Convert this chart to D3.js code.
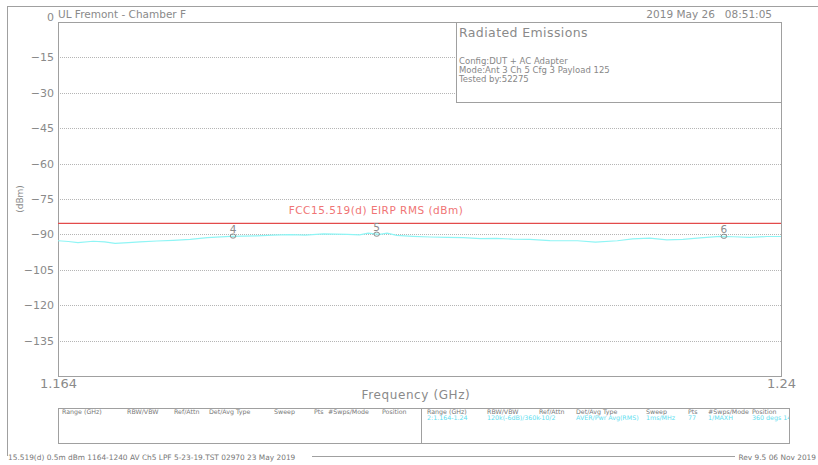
<!DOCTYPE html>
<html><head><meta charset="utf-8">
<script src="https://cdn.jsdelivr.net/npm/d3@7"></script>
<style>
html,body{margin:0;padding:0;background:#fff;}
svg{display:block;font-family:"DejaVu Sans",sans-serif;}
</style></head>
<body><svg id="c" width="818" height="465"></svg>
<script>
// ---- data ----
const traceFreq = [1.1640,1.1651,1.1661,1.1677,1.1689,1.1700,1.1714,1.1726,1.1744,1.1761,1.1779,1.1797,1.1821,1.1849,1.1866,1.1884,1.1900,1.1919,1.1944,1.1957,1.1966,1.1978,1.1986,1.1996,1.2013,1.2031,1.2049,1.2066,1.2084,1.2101,1.2118,1.2136,1.2157,1.2186,1.2205,1.2228,1.2244,1.2262,1.2280,1.2297,1.2315,1.2336,1.2350,1.2367,1.2385,1.2400];
const traceDbm  = [-92.7,-93.0,-93.5,-92.9,-93.2,-93.8,-93.5,-93.2,-92.8,-92.5,-92.1,-91.4,-90.8,-90.6,-90.3,-90.1,-90.3,-89.8,-90.0,-90.2,-89.5,-90.0,-89.5,-90.4,-90.8,-91.1,-91.3,-91.4,-91.8,-91.7,-92.0,-92.1,-92.6,-92.7,-93.3,-92.7,-91.9,-91.6,-92.3,-92.1,-91.5,-90.8,-91.0,-91.3,-90.9,-90.9];
const markerLabels = ["4","5","6"];
const markerFreq = [1.1824,1.1975,1.2340];
const markerDbm  = [-90.7,-89.9,-90.8];
const limitDbm = -85.3;
const limitLabel = "FCC15.519(d) EIRP RMS (dBm)";
const yTicks = [0,-15,-30,-45,-60,-75,-90,-105,-120,-135];
const xTicks = [1.164,1.24];
const xTickLabels = ["1.164","1.24"];
const infoLines = ["Config:DUT + AC Adapter","Mode:Ant 3 Ch 5 Cfg 3 Payload 125","Tested by:52275"];
const tableHeaders = ["Range (GHz)","RBW/VBW","Ref/Attn","Det/Avg Type","Sweep","Pts","#Swps/Mode","Position"];
const tableValues2 = ["2:1.164-1.24","120k(-6dB)/360k","-10/2","AVER/Pwr Avg(RMS)","1ms/MHz","77","1/MAXH","360 degs 14"];

// ---- layout ----
const svg = d3.select("#c");
const L=58, R=781, T=22, B=376;
const x = d3.scaleLinear().domain([1.164,1.24]).range([L,R]);
const y = d3.scaleLinear().domain([0,-150]).range([T,B]);
const gray="#8a8a8a", frame="#a0a0a0";

// outer frame
svg.append("line").attr("x1",8).attr("x2",818).attr("y1",6.5).attr("y2",6.5).attr("stroke",frame);
svg.append("line").attr("x1",7.5).attr("x2",7.5).attr("y1",6).attr("y2",456).attr("stroke",frame);
svg.append("line").attr("x1",312).attr("x2",735).attr("y1",456.5).attr("y2",456.5).attr("stroke",frame);

// info box geometry
const boxL=456, boxB=102;

// gridlines
svg.append("g").selectAll("line").data(yTicks.filter(d=>d!==0)).join("line")
  .attr("x1",L).attr("x2",d=>y(d)<boxB?boxL:R)
  .attr("y1",d=>Math.round(y(d))+0.5).attr("y2",d=>Math.round(y(d))+0.5)
  .attr("stroke","#b5b5b5").attr("stroke-dasharray","1,1");

// plot border
svg.append("rect").attr("x",L+0.5).attr("y",T+0.5).attr("width",R-L).attr("height",B-T)
  .attr("fill","none").attr("stroke",frame);

// y axis labels
const ya = svg.append("g").attr("transform",`translate(${L},0)`)
  .call(d3.axisLeft(y).tickValues(yTicks).tickSize(0).tickPadding(4).tickFormat(d=>d===0?"0":"\u2212"+Math.abs(d)));
ya.select(".domain").remove();
ya.selectAll("text").attr("fill",gray).attr("font-size",11).attr("font-family","DejaVu Sans");
ya.selectAll(".tick").filter(d=>d===0).select("text").attr("dy","-0.1em");

// x axis labels
const xa = svg.append("g").attr("transform",`translate(0,${B})`)
  .call(d3.axisBottom(x).tickValues(xTicks).tickSize(0).tickPadding(3).tickFormat((d,i)=>xTickLabels[i]));
xa.select(".domain").remove();
xa.selectAll("text").attr("fill",gray).attr("font-size",13).attr("font-family","DejaVu Sans");

// axis titles
svg.append("text").attr("x",416).attr("y",399).attr("text-anchor","middle")
  .attr("fill",gray).attr("font-size",12).attr("letter-spacing",0.6).text("Frequency (GHz)");
svg.append("text").attr("transform","translate(23,199) rotate(-90)").attr("text-anchor","middle")
  .attr("fill",gray).attr("font-size",9).text("(dBm)");

// header
svg.append("text").attr("x",58).attr("y",18).attr("fill",gray).attr("font-size",10.5).text("UL Fremont - Chamber F");
svg.append("text").attr("x",772).attr("y",18).attr("text-anchor","end").attr("fill",gray).attr("font-size",10.5)
  .attr("xml:space","preserve").text("2019 May 26   08:51:05");

// info box
svg.append("rect").attr("x",boxL+0.5).attr("y",T+0.5).attr("width",R-boxL).attr("height",boxB-T)
  .attr("fill","#fff").attr("stroke",frame);
svg.append("text").attr("x",459).attr("y",37).attr("fill",gray).attr("font-size",12.5).attr("letter-spacing",0.4).text("Radiated Emissions");
svg.append("g").selectAll("text").data(infoLines).join("text")
  .attr("x",459).attr("y",(d,i)=>64+i*9).attr("fill","#888").attr("font-size",8.5).text(d=>d);

// limit line
svg.append("line").attr("x1",L).attr("x2",R).attr("y1",y(limitDbm)).attr("y2",y(limitDbm))
  .attr("stroke","#e34b4b").attr("stroke-width",1.3);
svg.append("text").attr("x",376).attr("y",y(limitDbm)-9).attr("text-anchor","middle")
  .attr("fill","#f07575").attr("font-size",10.5).attr("letter-spacing",0.5).text(limitLabel);

// trace
const line = d3.line().x((d,i)=>x(traceFreq[i])).y(d=>y(d)).curve(d3.curveLinear);
svg.append("path").datum(traceDbm).attr("d",line).attr("fill","none").attr("stroke","#8ff5f5").attr("stroke-width",1.2);

// markers
const mk = svg.append("g").selectAll("g").data(markerLabels).join("g")
  .attr("transform",(d,i)=>`translate(${x(markerFreq[i])},${y(markerDbm[i])})`);
mk.append("ellipse").attr("rx",2.8).attr("ry",2.1).attr("fill","none").attr("stroke","#8c8c8c").attr("stroke-width",1);
mk.append("text").attr("y",-3).attr("text-anchor","middle").attr("fill","#8c8c8c").attr("font-size",10.5).text(d=>d);

// bottom table
const tL=58, tR=789, tT=408, tB=443, tMid=421;
svg.append("rect").attr("x",tL+0.5).attr("y",tT+0.5).attr("width",tR-tL).attr("height",tB-tT)
  .attr("fill","none").attr("stroke",frame);
svg.append("line").attr("x1",tMid+0.5).attr("x2",tMid+0.5).attr("y1",tT).attr("y2",tB).attr("stroke",frame);
const colL = [62,127,174,209,274,314,328,382];
const colR = [427,487,539,576,646,688,708,752];
svg.append("clipPath").attr("id","tclip").append("rect").attr("x",tL).attr("y",tT).attr("width",tR-tL).attr("height",tB-tT);
const tg = svg.append("g").attr("clip-path","url(#tclip)").attr("font-size",6.3);
tg.selectAll("text.hl").data(tableHeaders).join("text").attr("class","hl")
  .attr("x",(d,i)=>colL[i]).attr("y",414).attr("fill","#777").text(d=>d);
tg.selectAll("text.hr").data(tableHeaders).join("text").attr("class","hr")
  .attr("x",(d,i)=>colR[i]).attr("y",414).attr("fill","#777").text(d=>d);
tg.selectAll("text.vr").data(tableValues2).join("text").attr("class","vr")
  .attr("x",(d,i)=>colR[i]).attr("y",420).attr("fill","#5fe0f0").text(d=>d);

// footer
svg.append("text").attr("x",8).attr("y",460).attr("fill","#777").attr("font-size",7.4)
  .text("15.519(d) 0.5m dBm 1164-1240 AV Ch5 LPF 5-23-19.TST 02970 23 May 2019");
svg.append("text").attr("x",816).attr("y",460).attr("text-anchor","end").attr("fill","#777").attr("font-size",7.4)
  .text("Rev 9.5 06 Nov 2019");
</script></body></html>
